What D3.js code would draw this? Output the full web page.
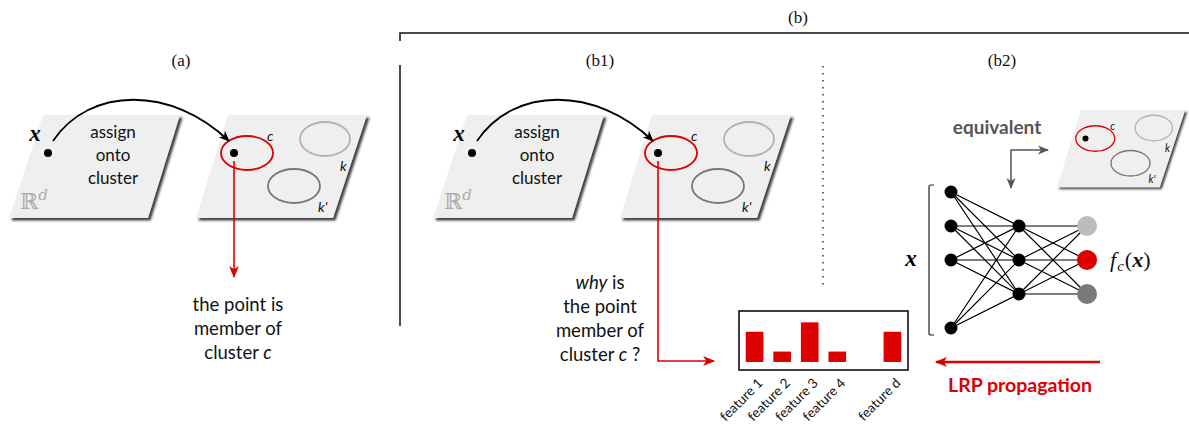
<!DOCTYPE html>
<html>
<head>
<meta charset="utf-8">
<script src="https://cdn.jsdelivr.net/npm/d3@7"></script>
<style>
  html, body { margin: 0; padding: 0; background: #fff; }
  svg { display: block; }
  .sans { font-family: Lato, "Open Sans", sans-serif; }
  .serif { font-family: "Liberation Serif", "Times New Roman", serif; }
</style>
</head>
<body>
<div id="chart"></div>
<script>
// ---- data -------------------------------------------------------------
const featureLabels = ["feature 1", "feature 2", "feature 3", "feature 4", "", "feature d"];
const featureRelevance = [2.9, 1.0, 3.8, 1.0, null, 2.9];
const relevanceMax = 4.6;

const inputSlots = [0, 1, 2, 4];        // input neurons (slot 3 is the elided gap)
const hiddenSlots = [1, 2, 3];
const outputSlots = [1, 2, 3];
const outputColors = ["#bcbcbc", "#dd0000", "#7a7a7a"];
const layerNames = ["input", "hidden", "output"];

const panelTitles = ["(a)", "(b)", "(b1)", "(b2)"];
const assignLines = ["assign", "onto", "cluster"];

// ---- canvas -----------------------------------------------------------
const W = 1189, H = 428;
const RED = "#dd0000";
const svg = d3.select("#chart").append("svg").attr("width", W).attr("height", H);
svg.append("rect").attr("width", W).attr("height", H).attr("fill", "#fff");

const defs = svg.append("defs");
const shadow = defs.append("filter").attr("id", "planeShadow")
  .attr("x", "-10%").attr("y", "-10%").attr("width", "125%").attr("height", "130%");
shadow.append("feDropShadow").attr("dx", 2.5).attr("dy", 2.5)
  .attr("stdDeviation", 1.1).attr("flood-color", "#333").attr("flood-opacity", 0.95);

function marker(id, color, size) {
  defs.append("marker").attr("id", id)
    .attr("viewBox", "-10 -5 12 10").attr("refX", 0).attr("refY", 0)
    .attr("markerUnits", "userSpaceOnUse")
    .attr("markerWidth", size * 1.2).attr("markerHeight", size)
    .attr("orient", "auto-start-reverse")
    .append("path").attr("d", "M-10,-4.5 L1,0 L-10,4.5 L-7,0 Z").attr("fill", color);
}
marker("arrBlack", "#000", 10);
marker("arrRed", RED, 11);
marker("arrGrey", "#555", 10);

// ---- building blocks ---------------------------------------------------
function inputPlane(g) {
  g.append("polygon").attr("points", "34,0 171,0 139,103 0,103")
    .attr("fill", "#efefef").attr("filter", "url(#planeShadow)");
  g.append("circle").attr("cx", 39).attr("cy", 38).attr("r", 4).attr("fill", "#000");
  g.append("text").attr("class", "serif").attr("x", 26).attr("y", 26)
    .attr("text-anchor", "middle").attr("font-size", 23).attr("font-weight", "bold")
    .attr("font-style", "italic").text("x");
  g.selectAll("text.assign").data(assignLines).join("text").attr("class", "assign sans")
    .attr("x", 104).attr("y", (d, i) => 23 + i * 23).attr("text-anchor", "middle")
    .attr("font-size", 17).attr("fill", "#111").text(d => d);
  const r = g.append("text").attr("x", 11).attr("y", 94).attr("fill", "#aaa")
    .style("font-family", "'DejaVu Serif', serif").attr("font-size", 22);
  r.append("tspan").text("ℝ");
  r.append("tspan").attr("dy", -9).attr("font-size", 15).attr("font-style", "italic").text("d");
}

function clusterPlane(g) {
  g.append("polygon").attr("points", "32,0 171,0 137,103 0,103")
    .attr("fill", "#efefef").attr("filter", "url(#planeShadow)");
  g.append("ellipse").attr("cx", 129).attr("cy", 24).attr("rx", 25).attr("ry", 17)
    .attr("fill", "none").attr("stroke", "#b3b3b3").attr("stroke-width", 1.8);
  g.append("ellipse").attr("cx", 98).attr("cy", 71).attr("rx", 26).attr("ry", 17)
    .attr("fill", "none").attr("stroke", "#777").attr("stroke-width", 1.8);
  g.append("ellipse").attr("cx", 51).attr("cy", 38).attr("rx", 26).attr("ry", 17)
    .attr("fill", "none").attr("stroke", RED).attr("stroke-width", 1.8);
  g.append("circle").attr("cx", 38).attr("cy", 38).attr("r", 4).attr("fill", "#000");
  const lab = [["c", 71, 26], ["k", 144, 56], ["k'", 122, 97]];
  g.selectAll("text.cl").data(lab).join("text").attr("class", "cl sans")
    .attr("x", d => d[1]).attr("y", d => d[2]).attr("font-style", "italic")
    .attr("font-size", 14).attr("fill", "#111").text(d => d[0]);
}

function assignPanel(dx) {
  const g = svg.append("g").attr("transform", `translate(${dx},0)`);
  inputPlane(g.append("g").attr("transform", "translate(9,115)"));
  clusterPlane(g.append("g").attr("transform", "translate(196,115)"));
  g.append("path").attr("d", "M53,141 C90,86 172,86 229,141")
    .attr("fill", "none").attr("stroke", "#000").attr("stroke-width", 1.8)
    .attr("marker-end", "url(#arrBlack)");
  return g;
}

// ---- panel (a) ------------------------------------------------------------
const ga = assignPanel(0);
ga.append("line").attr("x1", 234).attr("y1", 161).attr("x2", 234).attr("y2", 277)
  .attr("stroke", RED).attr("stroke-width", 1.6).attr("marker-end", "url(#arrRed)");
ga.selectAll("text.memb").data(["the point is", "member of", "cluster "]).join("text")
  .attr("class", "memb sans").attr("x", 238).attr("y", (d, i) => 311 + i * 24)
  .attr("text-anchor", "middle").attr("font-size", 18.5).attr("fill", "#111")
  .each(function (d, i) {
    const t = d3.select(this);
    t.append("tspan").text(d);
    if (i === 2) t.append("tspan").attr("font-style", "italic").text("c");
  });

// ---- panel (b1) -----------------------------------------------------------
const gb = assignPanel(424);
gb.append("path").attr("d", "M234,161 V361 H290")
  .attr("fill", "none").attr("stroke", RED).attr("stroke-width", 1.6)
  .attr("marker-end", "url(#arrRed)");
const why = [["why", " is"], ["the point"], ["member of"], ["cluster ", "c", " ?"]];
gb.selectAll("text.why").data(why).join("text").attr("class", "why sans")
  .attr("x", 176).attr("y", (d, i) => 289 + i * 24).attr("text-anchor", "middle")
  .attr("font-size", 18.5).attr("fill", "#111")
  .each(function (d, i) {
    const t = d3.select(this);
    d.forEach((s, j) => {
      const it = (i === 0 && j === 0) || (i === 3 && j === 1);
      t.append("tspan").attr("font-style", it ? "italic" : "normal").text(s);
    });
  });

// ---- relevance bar chart ------------------------------------------------------
const box = { x0: 739, y0: 311, x1: 908, y1: 370 };
svg.append("rect").attr("x", box.x0).attr("y", box.y0)
  .attr("width", box.x1 - box.x0).attr("height", box.y1 - box.y0)
  .attr("fill", "#fff").attr("stroke", "#111").attr("stroke-width", 1.6);
const xBar = d3.scaleBand().domain(d3.range(featureLabels.length))
  .range([box.x0 + 4, box.x1 - 4]).paddingInner(0.36).paddingOuter(0.1);
const baseY = 362;
const yBar = d3.scaleLinear().domain([0, relevanceMax]).range([baseY, box.y0 + 3]);
svg.selectAll("rect.bar").data(featureRelevance.map((v, i) => ({ v, i })).filter(d => d.v != null))
  .join("rect").attr("class", "bar")
  .attr("x", d => xBar(d.i)).attr("width", xBar.bandwidth())
  .attr("y", d => yBar(d.v)).attr("height", d => yBar(0) - yBar(d.v))
  .attr("fill", "#dd0000");
svg.selectAll("text.feat").data(featureLabels.map((l, i) => ({ l, i })).filter(d => d.l))
  .join("text").attr("class", "feat sans")
  .attr("transform", d => `translate(${xBar(d.i) + xBar.bandwidth() / 2 + 9},384) rotate(-45)`)
  .attr("text-anchor", "end").attr("font-size", 13.5).attr("fill", "#111").text(d => d.l);

// ---- panel (b2): network ------------------------------------------------------
const xLayer = d3.scalePoint().domain(layerNames).range([951, 1087]);
const ySlot = d3.scaleLinear().domain([0, 4]).range([192, 328]);
const layers = [inputSlots, hiddenSlots, outputSlots];
const edges = [];
for (let l = 0; l < 2; l++)
  layers[l].forEach(a => layers[l + 1].forEach(b => edges.push({ l, a, b })));
svg.selectAll("line.edge").data(edges).join("line").attr("class", "edge")
  .attr("x1", d => xLayer(layerNames[d.l])).attr("y1", d => ySlot(d.a))
  .attr("x2", d => xLayer(layerNames[d.l + 1])).attr("y2", d => ySlot(d.b))
  .attr("stroke", "#000").attr("stroke-width", 1.2);
[0, 1].forEach(l => {
  svg.selectAll(`circle.n${l}`).data(layers[l]).join("circle").attr("class", `n${l}`)
    .attr("cx", xLayer(layerNames[l])).attr("cy", d => ySlot(d)).attr("r", 6.5).attr("fill", "#000");
});
svg.selectAll("circle.out").data(outputSlots).join("circle").attr("class", "out")
  .attr("cx", xLayer("output")).attr("cy", d => ySlot(d)).attr("r", 10)
  .attr("fill", (d, i) => outputColors[i]);

// input bracket
svg.append("path").attr("d", "M934,185 H931 Q929,185 929,187 V333 Q929,335 931,335 H934")
  .attr("fill", "none").attr("stroke", "#222").attr("stroke-width", 1.2);
svg.append("text").attr("class", "serif").attr("x", 911).attr("y", 266)
  .attr("text-anchor", "middle").attr("font-size", 23).attr("font-weight", "bold")
  .attr("font-style", "italic").text("x");
const fc = svg.append("text").attr("class", "serif").attr("x", 1110).attr("y", 267)
  .attr("font-size", 22).attr("fill", "#111");
fc.append("tspan").attr("font-style", "italic").text("f");
fc.append("tspan").attr("dx", 1).attr("dy", 4).attr("font-size", 15).attr("font-style", "italic").text("c");
fc.append("tspan").attr("dx", 1).attr("dy", -4).text("(");
fc.append("tspan").attr("font-style", "italic").attr("font-weight", "bold").text("x");
fc.append("tspan").text(")");

// equivalent cluster view
clusterPlane(svg.append("g").attr("transform", "translate(1057,110) scale(0.75)"));
svg.append("text").attr("class", "sans").attr("x", 997).attr("y", 134)
  .attr("text-anchor", "middle").attr("font-size", 19).attr("font-weight", "bold")
  .attr("fill", "#555").text("equivalent");
svg.append("path").attr("d", "M1011,188 V150 H1048")
  .attr("fill", "none").attr("stroke", "#555").attr("stroke-width", 1.5)
  .attr("marker-start", "url(#arrGrey)").attr("marker-end", "url(#arrGrey)");

// LRP propagation arrow
svg.append("line").attr("x1", 1100).attr("y1", 362).attr("x2", 936).attr("y2", 362)
  .attr("stroke", RED).attr("stroke-width", 2.6).attr("marker-end", "url(#arrRed)");
svg.append("text").attr("class", "sans").attr("x", 1020).attr("y", 392)
  .attr("text-anchor", "middle").attr("font-size", 19.5).attr("font-weight", "bold")
  .attr("fill", RED).text("LRP propagation");

// ---- frame and titles ------------------------------------------------------
svg.append("path").attr("d", "M400,41 V33 H1189").attr("fill", "none")
  .attr("stroke", "#111").attr("stroke-width", 1.5);
svg.append("line").attr("x1", 400).attr("y1", 65).attr("x2", 400).attr("y2", 326)
  .attr("stroke", "#111").attr("stroke-width", 1.5);
svg.append("line").attr("x1", 823).attr("y1", 66).attr("x2", 823).attr("y2", 290)
  .attr("stroke", "#333").attr("stroke-width", 1.5).attr("stroke-dasharray", "1.5,5.5");
const titlePos = [[181, 66], [798, 23], [600, 66], [1002, 66]];
svg.selectAll("text.title").data(panelTitles).join("text").attr("class", "title serif")
  .attr("x", (d, i) => titlePos[i][0]).attr("y", (d, i) => titlePos[i][1])
  .attr("text-anchor", "middle").attr("font-size", 17).attr("fill", "#111").text(d => d);
</script>
</body>
</html>
